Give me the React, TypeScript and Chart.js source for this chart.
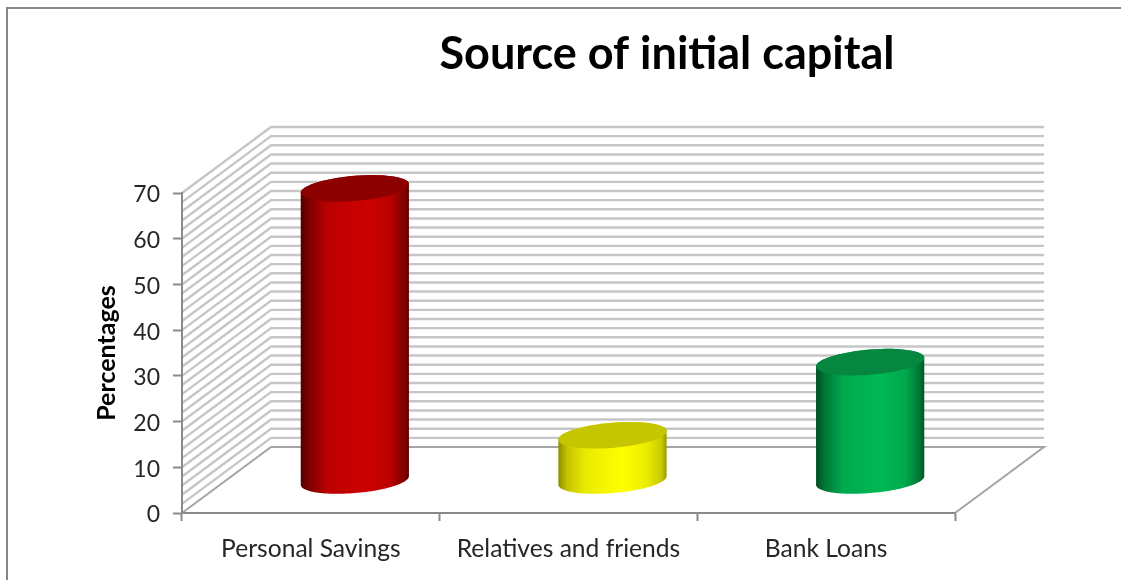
import React, { useEffect, useRef } from "react";
import { Chart, registerables } from "chart.js";

Chart.register(...registerables);

const categories = ["Personal Savings", "Relatives and friends", "Bank Loans"];
const percentages = [64, 10, 26];
const bodyColors = [[204, 0, 0], [255, 255, 0], [0, 184, 84]];
const capColors = ["#8c0000", "#c6c600", "#05873f"];
const edgeShades = [0.4, 0.55, 0.42];

const FONT = "Lato, 'Open Sans', sans-serif";
const AXIS_GRAY = "#8a8a8a";
const WALL_GRAY = "#c6c6c6";
const DEPTH_X = 89;
const DEPTH_Y = 66;
const WALL_STEP = 2;

const shade = (rgb: number[], k: number) =>
  `rgb(${rgb.map((c) => Math.round(c * k)).join(",")})`;

// Traces part of a sheared ellipse, which is how a round cap looks in this oblique view.
function traceArc(ctx: CanvasRenderingContext2D, cx: number, cy: number, a: number, from: number, to: number) {
  const slope = 0.08;
  const minor = 12.6;
  for (let i = 0; i <= 60; i++) {
    const t = from + ((to - from) * i) / 60;
    ctx.lineTo(cx + a * Math.cos(t), cy - slope * a * Math.cos(t) + minor * Math.sin(t));
  }
}

const frameAndWalls = {
  id: "frameAndWalls",
  afterLayout(chart: any) {
    // The heading is centred over the back wall rather than the whole canvas.
    chart.titleBlock.left = 240;
    chart.titleBlock.right = 1094;
  },
  beforeDraw(chart: any) {
    const { ctx, chartArea, scales } = chart;
    const { left, right, bottom } = chartArea;
    ctx.save();
    ctx.lineCap = "butt";

    ctx.strokeStyle = "#868686";
    ctx.lineWidth = 2;
    ctx.beginPath();
    ctx.moveTo(7, 580);
    ctx.lineTo(7, 8);
    ctx.lineTo(1121, 8);
    ctx.stroke();

    for (let v = WALL_STEP; v <= scales.y.max; v += WALL_STEP) {
      const y = scales.y.getPixelForValue(v);
      ctx.strokeStyle = WALL_GRAY;
      ctx.lineWidth = 2.4;
      ctx.beginPath();
      ctx.moveTo(left, y);
      ctx.lineTo(left + DEPTH_X, y - DEPTH_Y);
      ctx.lineTo(right + DEPTH_X, y - DEPTH_Y);
      ctx.stroke();
    }

    // Floor outline
    ctx.strokeStyle = "#a4a4a4";
    ctx.lineWidth = 2;
    ctx.beginPath();
    ctx.moveTo(left, bottom);
    ctx.lineTo(left + DEPTH_X, bottom - DEPTH_Y);
    ctx.lineTo(right + DEPTH_X, bottom - DEPTH_Y);
    ctx.lineTo(right, bottom);
    ctx.stroke();
    ctx.restore();
  },
};

const cylinders = {
  id: "cylinders",
  afterDatasetsDraw(chart: any) {
    const { ctx } = chart;
    const bars = chart.getDatasetMeta(0).data;
    bars.forEach((bar: any, i: number) => {
      const a = bar.width / 2;
      const cx = bar.x + 44;
      const top = bar.y - DEPTH_Y / 2 + 1;
      const base = bar.base - DEPTH_Y / 2 + 1;
      const rgb = bodyColors[i];
      const edge = edgeShades[i];

      const fill = ctx.createLinearGradient(cx - a, 0, cx + a, 0);
      fill.addColorStop(0, shade(rgb, edge));
      fill.addColorStop(0.08, shade(rgb, edge + 0.22));
      fill.addColorStop(0.25, shade(rgb, 0.92));
      fill.addColorStop(0.6, shade(rgb, 1));
      fill.addColorStop(0.82, shade(rgb, 0.92));
      fill.addColorStop(0.95, shade(rgb, edge + 0.24));
      fill.addColorStop(1, shade(rgb, edge + 0.05));

      ctx.save();
      ctx.fillStyle = fill;
      ctx.beginPath();
      traceArc(ctx, cx, top, a, Math.PI, Math.PI);
      traceArc(ctx, cx, base, a, Math.PI, 0);
      traceArc(ctx, cx, top, a, 0, -Math.PI);
      ctx.closePath();
      ctx.fill();

      ctx.fillStyle = capColors[i];
      ctx.beginPath();
      traceArc(ctx, cx, top, a, 0, Math.PI * 2);
      ctx.closePath();
      ctx.fill();
      ctx.restore();
    });
  },
};

export default function App() {
  const canvasRef = useRef<HTMLCanvasElement>(null);

  useEffect(() => {
    const chart = new Chart(canvasRef.current!, {
      type: "bar",
      data: {
        labels: categories,
        datasets: [
          {
            label: "Percentages",
            data: percentages,
            backgroundColor: "transparent",
            barPercentage: 0.42,
            categoryPercentage: 1,
          },
        ],
      },
      plugins: [frameAndWalls, cylinders],
      options: {
        responsive: false,
        animation: false,
        devicePixelRatio: 1,
        layout: { padding: { left: 92, right: 166, top: 0, bottom: 0 } },
        plugins: {
          legend: { display: false },
          tooltip: { enabled: false },
          title: {
            display: true,
            text: "Source of initial capital",
            color: "#000000",
            font: { family: FONT, size: 45, weight: "bold", lineHeight: 1.2 },
            padding: { top: 27, bottom: 112 },
          },
        },
        scales: {
          x: {
            offset: true,
            afterFit: (s: any) => {
              s.height = 67;
            },
            border: { color: AXIS_GRAY, width: 2 },
            grid: { offset: true, drawOnChartArea: false, tickLength: 8, tickColor: AXIS_GRAY, tickWidth: 2 },
            ticks: {
              color: "#262626",
              maxRotation: 0,
              padding: 13,
              font: { family: FONT, size: 24.6 },
            },
          },
          y: {
            min: 0,
            max: 70,
            afterFit: (s: any) => {
              s.width = 90;
            },
            border: { color: AXIS_GRAY, width: 2 },
            grid: { drawOnChartArea: false, tickLength: 9, tickColor: AXIS_GRAY, tickWidth: 2 },
            ticks: {
              stepSize: 10,
              color: "#262626",
              padding: 13,
              labelOffset: 2,
              font: { family: FONT, size: 23 },
            },
            title: {
              display: true,
              text: "Percentages",
              color: "#000000",
              padding: { top: 0, bottom: 0 },
              font: { family: FONT, size: 25, weight: "bold", lineHeight: 1.2 },
            },
          },
        },
      },
    } as any);
    return () => chart.destroy();
  }, []);

  return (
    <canvas
      ref={canvasRef}
      width={1121}
      height={580}
      style={{ position: "fixed", left: 0, top: 0, display: "block", background: "#ffffff" }}
    />
  );
}
